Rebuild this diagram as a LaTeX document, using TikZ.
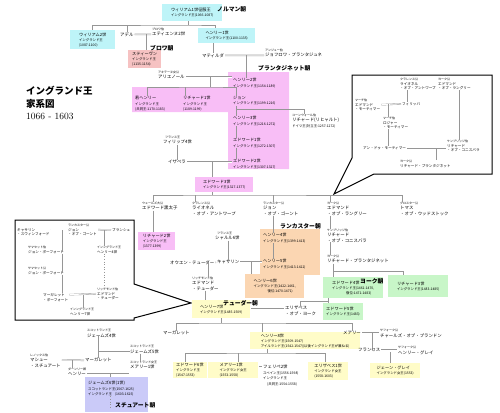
\documentclass[tikz,border=0pt]{standalone}
\usepackage{fontspec}
\newfontfamily\jp{Noto Sans CJK JP}
\usetikzlibrary{positioning}

\definecolor{cyanK}{RGB}{190,244,248}
\definecolor{pinkK}{RGB}{248,190,246}
\definecolor{redK}{RGB}{246,194,194}
\definecolor{orangeK}{RGB}{251,214,178}
\definecolor{greenK}{RGB}{200,246,200}
\definecolor{yellowK}{RGB}{255,252,200}
\definecolor{lavK}{RGB}{202,202,248}
\definecolor{lineK}{RGB}{150,150,150}

\newcommand{\dt}[1]{{\fontsize{3.4}{5}\selectfont #1}}

\tikzset{
  person/.style={font=\jp\fontsize{4.4}{5.4}\selectfont, inner sep=0pt, anchor=north west, align=left},
  iperson/.style={font=\jp\fontsize{3.6}{4.8}\selectfont, inner sep=0pt, anchor=north west, align=left},
  inbox/.style={font=\jp\fontsize{4.2}{5.4}\selectfont, inner sep=0pt, anchor=north west, align=left},
  ttl/.style={font=\jp\fontsize{3}{3.6}\selectfont, inner sep=0pt, anchor=south west},
  kbox/.style={font=\jp\fontsize{4.2}{5}\selectfont, inner xsep=3pt, inner ysep=1pt, anchor=north west, align=left},
  desc/.style={draw=lineK, line width=0.6pt},
  wed/.style={draw=lineK, line width=0.35pt, double=white, double distance=0.8pt, shorten <=1pt, shorten >=1pt},
  dyn/.style={font=\jp\bfseries\fontsize{5.8}{6}\selectfont, inner sep=0pt, anchor=west},
  callout/.style={draw=black, line width=1pt, fill=white},
}

\begin{document}
\begin{tikzpicture}[x=1pt, y=-1pt]
\useasboundingbox (0,0) rectangle (500,412);

% coloured areas
\fill[pinkK] (132,87) -- (228,87) -- (228,72) -- (289,72) -- (289,169) -- (228,169) -- (228,112) -- (132,112) -- cycle;
\fill[orangeK] (260,229) rectangle (320,275);
\fill[lavK] (85,377) rectangle (148,412);

% callouts
\draw[callout] (352,75) -- (492,75) -- (492,174) -- (374,174) -- (334,194) -- (352,158) -- cycle;
\draw[callout] (15,220) -- (134,220) -- (134,284) -- (191,303) -- (134,318) -- (134,320) -- (15,320) -- cycle;

% title
\node[anchor=north west, align=left, inner sep=0pt, font=\fontsize{9.5}{12.5}\selectfont] (title) at (26,86)
  {{\jp\bfseries イングランド王}\\{\jp\bfseries 家系図}\\1066 - 1603};

% Norman and Blois
\node[kbox, fill=cyanK, minimum width=60pt, minimum height=17pt] (william1) at (162,4) {ウィリアム1世征服王\\\dt{イングランド王(1066-1087)}};
\node[dyn] (norman) at (217,9) {ノルマン朝};
\node[kbox, fill=cyanK, minimum width=45pt, minimum height=19pt] (william2) at (70,30) {ウィリアム2世\\\dt{イングランド王}\\\dt{(1087-1100)}};
\node[kbox, fill=cyanK, minimum width=57pt, minimum height=15pt] (henry1) at (198,28) {ヘンリー1世\\\dt{イングランド王(1100-1135)}};
\node[person] (adele) at (120,32.1) {アデル};
\node[person] (etienne) at (152,32.1) {エティエンヌ2世};
\node[above=0.8pt of etienne.north west, ttl] (etienneT) {ブロワ伯};
\node[kbox, fill=redK, minimum width=33pt, minimum height=18pt] (stephen) at (128,50) {スティーヴン\\\dt{イングランド王}\\\dt{(1135-1154)}};
\node[dyn] (blois) at (150,48) {ブロワ朝};
\node[person] (matilda) at (202,53.1) {マティルダ};
\node[person] (geoffrey) at (265,53.1) {ジョフロワ・プランタジュネ};
\node[above=0.8pt of geoffrey.north west, ttl] (geoffreyT) {アンジュー伯};

% Plantagenet
\node[dyn] (plant) at (258,68) {プランタジネット朝};
\node[person] (eleanor) at (158,75.1) {アリエノール};
\node[above=0.8pt of eleanor.north west, ttl] (eleanorT) {アキテーヌ女公};
\node[inbox] (henry2) at (233,78) {ヘンリー2世\\\dt{イングランド王(1154-1189)}};
\node[inbox] (younghenry) at (135,96) {若ヘンリー\\\dt{イングランド王}\\\dt{(共同王:1170-1183)}};
\node[inbox] (richard1) at (183,96) {リチャード1世\\\dt{イングランド王}\\\dt{(1189-1199)}};
\node[inbox] (john) at (233,96) {ジョン\\\dt{イングランド王(1199-1216)}};
\node[inbox] (henry3) at (233,116) {ヘンリー3世\\\dt{イングランド王(1216-1272)}};
\node[person] (cornwall) at (292,118.1) {リチャード(リヒャルト)\\\dt{ドイツ王(対立王:1257-1272)}};
\node[above=0.8pt of cornwall.north west, ttl] (cornwallT) {コーンウォール伯};
\node[inbox] (edward1) at (233,138) {エドワード1世\\\dt{イングランド王(1272-1307)}};
\node[inbox] (edward2) at (233,159) {エドワード2世\\\dt{イングランド王(1307-1327)}};
\node[person] (philip4) at (163,140.1) {フィリップ4世};
\node[above=0.8pt of philip4.north west, ttl, xshift=2pt] (philip4T) {フランス王};
\node[person] (isabella) at (168,160.1) {イザベラ};
\node[kbox, fill=pinkK, minimum width=58pt, minimum height=15pt] (edward3) at (195,177) {エドワード3世\\\dt{イングランド王(1327-1377)}};

% children of Edward III
\node[person] (blackprince) at (142,206.1) {エドワード黒太子};
\node[above=0.8pt of blackprince.north west, ttl] (blackprinceT) {ウェールズ大公};
\node[person] (lionel) at (192,206.1) {ライオネル\\・オブ・アントワープ};
\node[above=0.8pt of lionel.north west, ttl] (lionelT) {クラレンス公};
\node[person] (gaunt) at (263,206.1) {ジョン\\・オブ・ゴーント};
\node[above=0.8pt of gaunt.north west, ttl] (gauntT) {ランカスター公};
\node[person] (langley) at (327,206.1) {エドマンド\\・オブ・ラングリー};
\node[above=0.8pt of langley.north west, ttl] (langleyT) {ヨーク公};
\node[person] (woodstock) at (400,206.1) {トマス\\・オブ・ウッドストック};
\node[above=0.8pt of woodstock.north west, ttl] (woodstockT) {グロスター公};
\node[kbox, fill=pinkK, minimum width=37pt, minimum height=18pt] (richard2) at (138,232) {リチャード2世\\\dt{イングランド王}\\\dt{(1377-1399)}};

% Lancaster
\node[dyn] (lanc) at (280,226) {ランカスター朝};
\node[inbox] (henry4) at (263,233) {ヘンリー4世\\\dt{イングランド王(1399-1413)}};
\node[inbox] (henry5) at (263,259) {ヘンリー5世\\\dt{イングランド王(1413-1422)}};
\node[kbox, fill=orangeK, minimum width=59pt, minimum height=24pt] (henry6) at (245,274) {ヘンリー6世\\\dt{イングランド王(1422-1461,}\\\dt{\hspace*{14pt}復位:1470-1471)}};
\node[person] (charles6) at (215,236.1) {シャルル6世};
\node[above=0.8pt of charles6.north west, ttl, xshift=2pt] (charles6T) {フランス王};
\node[person] (catherine) at (217,260.1) {キャサリン};
\node[person] (owen) at (170,260.1) {オウエン・テューダー};

% York
\node[person] (conisburgh) at (327,233.1) {リチャード\\・オブ・コニスバラ};
\node[above=0.8pt of conisburgh.north west, ttl] (conisburghT) {ケンブリッジ伯};
\node[person] (yorkrich) at (327,259.1) {リチャード・プランタジネット};
\node[above=0.8pt of yorkrich.north west, ttl] (yorkrichT) {ヨーク公};
\node[kbox, fill=greenK, minimum width=60pt, minimum height=21pt] (edward4) at (323,277) {エドワード4世\\\dt{イングランド王(1461-1470,}\\\dt{\hspace*{14pt}復位:1471-1483)}};
\node[dyn] (yorkd) at (360,281) {ヨーク朝};
\node[kbox, fill=greenK, minimum width=60pt, minimum height=22pt] (richard3) at (388,275) {リチャード3世\\\dt{イングランド王(1483-1485)}};
\node[kbox, fill=greenK, minimum width=39pt, minimum height=17pt] (edward5) at (323,303) {エドワード5世\\\dt{イングランド王(1483)}};
\node[person] (elizyork) at (285,306.1) {エリザベス\\・オブ・ヨーク};

% Tudor
\node[person] (edmundtudor) at (192,281.1) {エドマンド\\・テューダー};
\node[above=0.8pt of edmundtudor.north west, ttl] (edmundtudorT) {リッチモンド伯};
\node[kbox, fill=yellowK, minimum width=58pt, minimum height=18pt] (henry7) at (192,300) {ヘンリー7世\\\dt{イングランド王(1485-1509)}};
\node[dyn] (tudor) at (223,303) {テューダー朝};
\node[kbox, fill=yellowK, minimum width=110pt, minimum height=17pt] (henry8) at (250,332) {ヘンリー8世\\\dt{イングランド王(1509-1547)}\\\dt{アイルランド王(1542-1547)(以後イングランド王が兼ねる)}};
\node[person] (margaret) at (163,331.1) {マーガレット};
\node[person] (marytudor) at (343,331.1) {メアリー};
\node[person] (brandon) at (380,333.1) {チャールズ・オブ・ブランドン};
\node[above=0.8pt of brandon.north west, ttl] (brandonT) {サフォーク公};
\node[person] (frances) at (358,348.1) {フランセス};
\node[person] (henrygrey) at (398,350.1) {ヘンリー・グレイ};
\node[above=0.8pt of henrygrey.north west, ttl] (henrygreyT) {サフォーク公};
\node[kbox, fill=yellowK, minimum width=50pt, minimum height=15pt] (janegrey) at (370,363) {ジェーン・グレイ\\\dt{イングランド女王(1553)}};
\node[kbox, fill=yellowK, minimum width=30pt, minimum height=16pt] (edward6) at (173,362) {エドワード6世\\\dt{イングランド王}\\\dt{(1547-1553)}};
\node[kbox, fill=yellowK, minimum width=50pt, minimum height=16pt] (mary1) at (208,362) {メアリー1世\\\dt{イングランド女王}\\\dt{(1553-1558)}};
\node[person] (philip2) at (263,365) {フェリペ2世\\\dt{スペイン王(1556-1598)}\\\dt{イングランド王}\\\dt{\hspace*{4pt}(共同王:1554-1558)}};
\node[kbox, fill=yellowK, minimum width=40pt, minimum height=18pt] (elizabeth1) at (308,362) {エリザベス1世\\\dt{イングランド女王}\\\dt{(1558-1603)}};

% Stuart
\node[person] (james4) at (87,333.1) {ジェームズ4世};
\node[above=0.8pt of james4.north west, ttl] (james4T) {スコットランド王};
\node[person] (james5) at (130,349.1) {ジェームズ5世};
\node[above=0.8pt of james5.north west, ttl] (james5T) {スコットランド王};
\node[person] (marydouglas) at (85,358.1) {マーガレット};
\node[person] (matthew) at (30,358.1) {マシュー\\・スチュアート};
\node[above=0.8pt of matthew.north west, ttl] (matthewT) {レノックス伯};
\node[person] (darnley) at (68,372.1) {ヘンリー};
\node[above=0.8pt of darnley.north west, ttl] (darnleyT) {ダーンリー卿};
\node[person] (maryqs) at (130,365.1) {メアリー1世};
\node[above=0.8pt of maryqs.north west, ttl] (maryqsT) {スコットランド女王};
\node[inbox] (james6) at (88,381) {ジェームズ6世(1世)\\\dt{スコットランド王(1567-1625)}\\\dt{イングランド王\hspace*{3pt}(1603-1625)}};
\node[dyn] (stuart) at (115,405) {スチュアート朝};
\coordinate (stuartTop) at (110,377);
\coordinate (stuartEnd) at (110,408);

% inset: Mortimer line
\node[iperson] (i1lionel) at (400,82.1) {ライオネル\\・オブ・アントワープ};
\node[above=0.8pt of i1lionel.north west, ttl] (i1lionelT) {クラレンス公};
\node[iperson] (i1langley) at (438,82.1) {エドマンド\\・オブ・ラングリー};
\node[above=0.8pt of i1langley.north west, ttl] (i1langleyT) {ヨーク公};
\node[iperson] (i1edmund) at (355,103.1) {エドマンド\\・モーティマー};
\node[above=0.8pt of i1edmund.north west, ttl] (i1edmundT) {マーチ伯};
\node[iperson] (philippa) at (402,102.1) {フィリッパ};
\node[iperson] (roger) at (383,121.1) {ロジャー\\・モーティマー};
\node[above=0.8pt of roger.north west, ttl] (rogerT) {マーチ伯};
\node[iperson] (anne) at (363,146.1) {アン・ドゥ・モーティマー};
\node[iperson] (i1conis) at (447,144.1) {リチャード\\・オブ・コニスバラ};
\node[above=0.8pt of i1conis.north west, ttl] (i1conisT) {ケンブリッジ伯};
\node[iperson] (i1yorkrich) at (400,164.1) {リチャード・プランタジネット};
\node[above=0.8pt of i1yorkrich.north west, ttl] (i1yorkrichT) {ヨーク公};

% inset: Beaufort line
\node[iperson] (swynford) at (17,228.1) {キャサリン\\・スウィンフォード};
\node[iperson] (i2gaunt) at (68,228.1) {ジョン\\・オブ・ゴーント};
\node[above=0.8pt of i2gaunt.north west, ttl] (i2gauntT) {ランカスター公};
\node[iperson] (blanche) at (112,228.1) {ブランシュ};
\node[iperson] (somerset1) at (28,250.1) {ジョン・ボーフォート};
\node[above=0.8pt of somerset1.north west, ttl] (somerset1T) {サマセット伯};
\node[iperson] (i2henry4) at (97,250.1) {ヘンリー4世};
\node[above=0.8pt of i2henry4.north west, ttl] (i2henry4T) {インングランド王};
\node[iperson] (somerset2) at (28,271.1) {ジョン・ボーフォート};
\node[above=0.8pt of somerset2.north west, ttl] (somerset2T) {サマセット公};
\node[iperson] (mbeaufort) at (43,293.1) {マーガレット\\・ボーフォート};
\node[iperson] (i2edmund) at (97,292.1) {エドマンド\\・テューダー};
\node[above=0.8pt of i2edmund.north west, ttl] (i2edmundT) {リッチモンド伯};
\node[iperson] (i2henry7) at (70,312.1) {ヘンリー7世};
\node[above=0.8pt of i2henry7.north west, ttl] (i2henry7T) {インングランド王};

% ---- connectors ----
\coordinate (bar1) at (188,25);
\draw[desc] (william1.south -| bar1) -- (bar1);
\draw[desc] (william2.north) |- (bar1) -| ([xshift=17pt]henry1.north west);
\draw[desc] (adele.north) -- (adele.north |- bar1);
\draw[wed] (adele.east) -- (etienne.west);
\coordinate (m1) at (146,34);
\draw[desc] (m1) -- (m1 |- stephen.north);
\draw[desc] (matilda.north) -- (matilda.north |- henry1.south);
\draw[wed] (matilda.east) -- (geoffrey.west);
\coordinate (m2) at (246,55);
\draw[desc] (m2) -- (m2 |- henry2.north);
\draw[wed] (eleanor.east) -- (henry2.west |- eleanor.east);
\coordinate (m3) at (210,77);
\coordinate (bar2) at (210,87);
\draw[desc] (m3) -- (bar2);
\draw[desc] ([xshift=12pt]younghenry.north west) |- (bar2) -| ([xshift=3pt]john.north west);
\draw[desc] ([xshift=2pt]richard1.north west) -- ([xshift=2pt]richard1.north west |- bar2);
\draw[desc] ([xshift=3pt]john.south west) -- ([xshift=3pt]henry3.north west);
\coordinate (m4) at (236,109);
\draw[desc] (m4) -| (cornwallT.north);
\draw[desc] ([xshift=3pt]henry3.south west) -- ([xshift=3pt]edward1.north west);
\draw[desc] ([xshift=3pt]edward1.south west) -- ([xshift=3pt]edward2.north west);
\draw[desc] (philip4.south) -- (philip4.south |- isabella.north);
\draw[wed] (isabella.east) -- (edward2.west |- isabella.east);
\coordinate (m5) at (212,162);
\draw[desc] (m5) -- (m5 |- edward3.north);
\coordinate (bar3) at (212,195);
\draw[desc] (edward3.south -| bar3) -- (bar3);
\draw[desc] ([xshift=11pt]blackprinceT.north west) |- (bar3) -| ([xshift=2pt]woodstockT.north west);
\draw[desc] ([xshift=3pt]lionelT.north west) -- ([xshift=3pt]lionelT.north west |- bar3);
\draw[desc] ([xshift=10pt]gauntT.north west) -- ([xshift=10pt]gauntT.north west |- bar3);
\draw[desc] ([xshift=3pt]langleyT.north west) -- ([xshift=3pt]langleyT.north west |- bar3);
\draw[desc] ([xshift=11pt]blackprince.south west) -- ([xshift=15pt]richard2.north west);
\draw[desc] ([xshift=10pt]gaunt.south west) -- ([xshift=10pt]henry4.north west);
\draw[desc] ([xshift=10pt]henry4.south west) -- ([xshift=10pt]henry5.north west);
\draw[desc] ([xshift=3pt]langley.south west) -- ([xshift=3pt]conisburghT.north west);
\draw[desc] ([xshift=3pt]conisburgh.south west) -- ([xshift=3pt]yorkrichT.north west);
\draw[desc] ([xshift=6pt]yorkrich.south west) -- ([xshift=10pt]edward4.north west);
\coordinate (bar4) at (333,271);
\draw[desc] (bar4) -| ([xshift=15pt]richard3.north west);
\draw[desc] ([xshift=5pt]edward4.south west) -- ([xshift=5pt]edward5.north west);
\coordinate (bar5) at (328,301);
\draw[desc] (bar5) -| ([xshift=15pt]elizyork.north west);
\draw[desc] (charles6.south -| catherine.north) -- (catherine.north);
\draw[wed] (owen.east) -- (catherine.west);
\draw[wed] (catherine.east) -- (henry5.west |- catherine.east);
\coordinate (m6) at (208,262);
\draw[desc] (m6) -- (m6 |- edmundtudorT.north);
\coordinate (m7) at (251,262);
\draw[desc] (m7) -- (m7 |- henry6.north);
\draw[desc] ([xshift=13pt]edmundtudor.south west) -- ([xshift=13pt]henry7.north west);
\draw[wed] (henry7.east) -- (elizyork.west |- henry7.east);
\coordinate (bar6) at (221,323);
\draw[desc] (henry7.south -| bar6) -- (bar6);
\draw[desc] (margaret.north) |- (bar6) -| (marytudor.north);
\draw[desc] ([xshift=12pt]henry8.north west) -- ([xshift=12pt]henry8.north west |- bar6);
\coordinate (bar7) at (267,353);
\draw[desc] (henry8.south -| bar7) -- (bar7);
\draw[desc] ([xshift=12pt]edward6.north west) |- (bar7) -| ([xshift=17pt]elizabeth1.north west);
\draw[desc] ([xshift=30pt]mary1.north west) -- ([xshift=30pt]mary1.north west |- bar7);
\draw[wed] ([yshift=-5pt]mary1.north east) -- ([yshift=-2pt]philip2.north west);
\draw[wed] (marytudor.east) -- (brandon.west |- marytudor.east);
\coordinate (m8) at (372,333);
\draw[desc] (m8) -- (m8 |- frances.north);
\draw[wed] (frances.east) -- (henrygrey.west |- frances.east);
\coordinate (m9) at (390,352);
\draw[desc] (m9) -- (m9 |- janegrey.north);
\draw[wed] (james4.east) -- (margaret.west |- james4.east);
\coordinate (m10) at (98,335);
\draw[desc] (m10) -- (m10 |- marydouglas.north);
\draw[desc] (m10 |- james5.west) -- (james5.west);
\draw[desc] ([xshift=10pt]james5.south west) -- ([xshift=10pt]maryqsT.north west);
\draw[wed] ([yshift=-2pt]matthew.north east) -- (marydouglas.west);
\coordinate (m11) at (72,360);
\draw[desc] (m11) -- (m11 |- darnleyT.north);
\draw[wed] (darnley.east) -- (maryqs.west |- darnley.east);
\coordinate (m12) at (110,374);
\draw[desc] (m12) -- (stuartTop);
\draw[desc, dotted] ([xshift=22pt]james6.south west) -- (stuartEnd);

% inset connectors
\draw[desc] ([xshift=7pt]i1lionel.south west) -- ([xshift=5pt]philippa.north west);
\draw[wed] ([yshift=-1.6pt]i1edmund.north east) -- (philippa.west);
\coordinate (i1m1) at (388,104);
\draw[desc] (i1m1) -- (i1m1 |- rogerT.north);
\draw[desc] ([xshift=5pt]roger.south west) -- ([xshift=5pt]roger.south west |- anne.north);
\draw[wed] (anne.east) -- (i1conis.west |- anne.east);
\draw[desc] ([xshift=21pt]i1langley.south west) -- ([xshift=12pt]i1conisT.north west);
\coordinate (i1m2) at (436,148);
\draw[desc] (i1m2) -- (i1m2 |- i1yorkrichT.north);
\draw[wed] ([yshift=-1.6pt]swynford.north east) -- ([yshift=-1.6pt]i2gaunt.north west);
\draw[wed] ([yshift=-1.6pt]i2gaunt.north east) -- (blanche.west);
\coordinate (i2m1) at (62,230);
\draw[desc] (i2m1) -- (i2m1 |- somerset1.east);
\draw[desc] (i2m1 |- somerset1.south) -- (i2m1 |- somerset2.east);
\draw[desc] (i2m1 |- somerset2.south) -- (i2m1 |- mbeaufort.north);
\coordinate (i2m2) at (104,230);
\draw[desc] (i2m2) -- (i2m2 |- i2henry4T.north);
\draw[desc, dotted] (i2m2 |- i2henry4.south) -- (i2m2 |- i2edmundT.north);
\draw[wed] ([yshift=-1.6pt]mbeaufort.north east) -- ([yshift=-1.6pt]i2edmund.north west);
\coordinate (i2m3) at (83,295);
\draw[desc] (i2m3) -- (i2m3 |- i2henry7T.north);
\end{tikzpicture}
\end{document}
